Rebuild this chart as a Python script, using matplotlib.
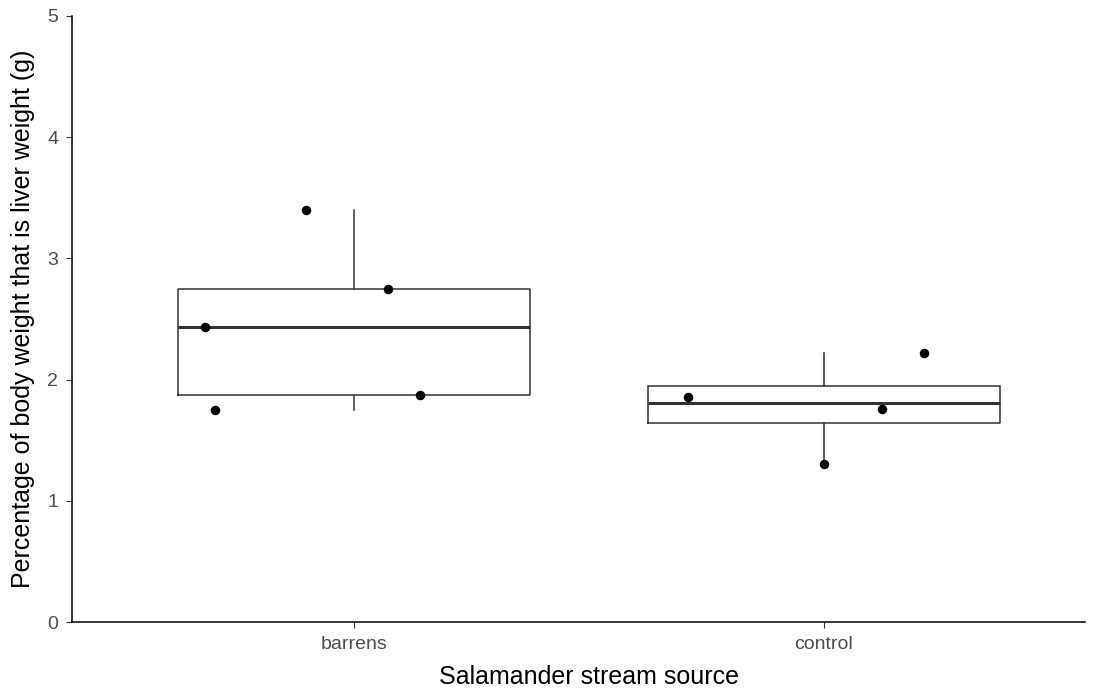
import numpy as np
import matplotlib.pyplot as plt

plt.rcParams['font.family'] = ['Liberation Sans', 'DejaVu Sans']

# data
groups = ["barrens", "control"]
barrens = [1.75, 2.43, 3.40, 2.75, 1.87]
control = [1.86, 1.30, 1.76, 2.22]
# horizontal jitter of each point (category units)
barrens_jitter = [-0.296, -0.317, -0.102, 0.072, 0.140]
control_jitter = [-0.289, 0.0, 0.123, 0.213]
yticks = [0, 1, 2, 3, 4, 5]

fig = plt.figure(figsize=(10.98, 6.94), dpi=100)
ax = fig.add_axes([0.0656, 0.1037, 0.9224, 0.8733])

ax.boxplot([barrens, control], positions=[1, 2], widths=0.75, whis=1.5,
           showfliers=False, showcaps=False,
           boxprops=dict(color="#333333", linewidth=1.1),
           whiskerprops=dict(color="#333333", linewidth=1.1),
           medianprops=dict(color="#333333", linewidth=2.2))

for i, (vals, jit) in enumerate([(barrens, barrens_jitter), (control, control_jitter)]):
    xs = [i + 1 + j for j in jit]
    ax.scatter(xs, vals, s=34, color="black", zorder=3)

ax.set_xlim(0.4, 2.555)
ax.set_ylim(0, 5)
ax.set_xticks([1, 2])
ax.set_xticklabels(groups)
ax.set_yticks(yticks)
ax.tick_params(labelsize=14, labelcolor="#4d4d4d", color="#333333", length=4, pad=6)
for s in ["top", "right"]:
    ax.spines[s].set_visible(False)
for s in ["left", "bottom"]:
    ax.spines[s].set_color("black")
    ax.spines[s].set_linewidth(1.1)

ax.set_xlabel("Salamander stream source", fontsize=18, labelpad=9)
ax.xaxis.label.set_x(0.51)
ax.set_ylabel("Percentage of body weight that is liver weight (g)", fontsize=18, labelpad=9)

fig.savefig("out.png", dpi=100)
